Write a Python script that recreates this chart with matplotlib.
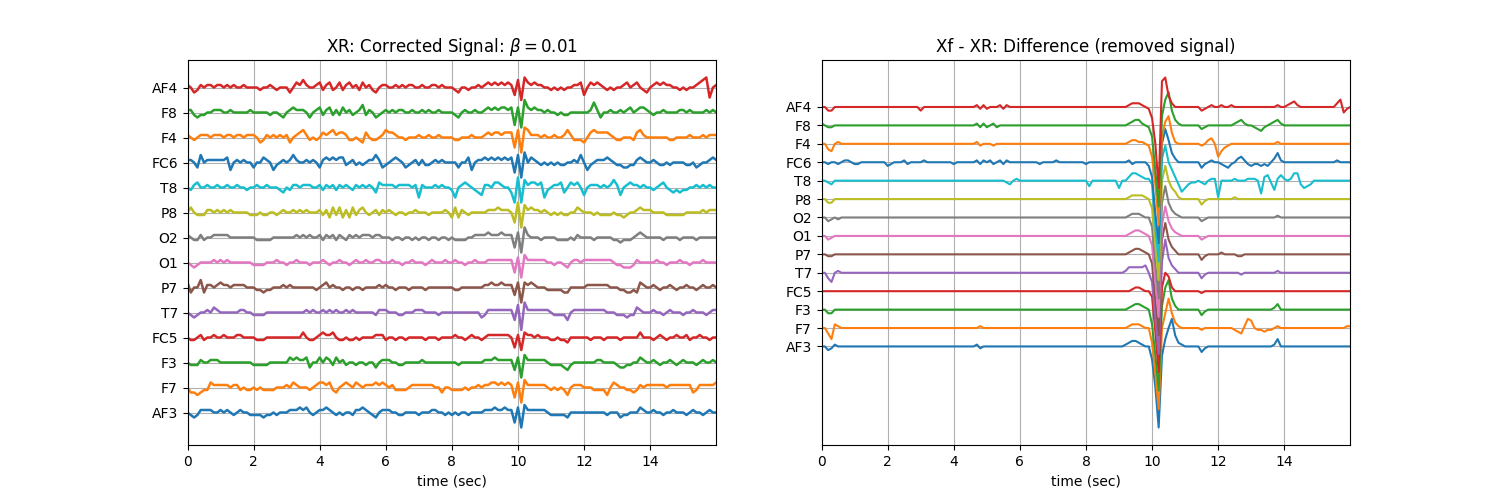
import numpy as np
import matplotlib
matplotlib.use("Agg")
import matplotlib.pyplot as plt

# channel order, bottom to top
channels = ['AF3', 'F7', 'F3', 'FC5', 'T7', 'P7', 'O1', 'O2', 'P8', 'T8', 'FC6', 'F4', 'F8', 'AF4']

# sample times (sec), 0.1 s apart
t = np.arange(161) * 0.1

# corrected signal XR, one row = 2 sec (20 samples), units: 10 = channel spacing
xr_AF3 = [0,-1,-2,-1,1,1,1,1,0,0,1,0,1,0,-1,0,1,0,0,-1,
          -1,-1,-1,-2,-1,-1,0,-1,0,0,0,1,1,1,2,1,2,0,-1,0,
          1,1,2,1,0,-1,0,-1,0,0,-1,1,1,2,1,0,-1,-2,0,1,
          1,1,0,0,-1,-1,0,0,0,0,-1,0,0,0,1,1,0,0,-1,0,
          -1,0,-1,0,0,-1,0,0,0,0,1,1,1,2,1,1,2,1,1,-4,
          2,-6,3,1,1,1,1,1,1,0,-1,-1,-1,-1,-1,-2,0,0,0,0,
          0,0,0,0,0,0,0,-1,0,0,0,-2,-1,-1,0,0,0,2,1,0,
          0,1,0,0,-1,0,0,1,0,0,0,-1,0,1,0,0,-1,0,1,0, 0]
xr_F7 = [0,-2,-2,-3,-2,-1,-1,2,1,1,1,1,1,0,1,1,-1,0,-1,-1,
         0,-1,0,-1,-1,-1,-1,0,0,0,1,0,2,1,0,0,0,-1,0,1,
         2,2,1,2,-1,-2,0,1,2,1,0,2,1,0,1,1,1,2,1,2,
         1,0,1,-1,-1,-1,-1,0,1,1,1,1,1,1,1,0,0,-2,0,0,
         -1,-1,-1,-1,0,-1,0,0,1,0,1,1,2,2,1,2,1,2,1,-4,
         2,-6,3,1,1,1,1,1,1,0,-1,0,-1,0,-1,-3,0,1,1,1,
         0,0,0,-1,-1,-1,-1,-3,0,2,1,0,0,-1,-1,-2,-1,1,0,1,
         1,1,1,1,1,0,1,1,1,1,1,1,1,-2,-1,1,1,1,1,1, 2]
xr_F3 = [0,-1,-1,-1,1,0,0,1,1,1,0,0,0,0,0,0,0,0,0,0,
         -1,-1,-1,-1,-1,0,0,0,0,0,0,2,1,2,1,1,2,-2,0,0,
         2,0,2,1,-1,2,0,1,-1,0,0,-1,0,0,-1,0,0,-2,0,1,
         1,1,0,0,-1,-1,0,0,0,0,0,1,0,0,0,0,0,0,0,0,
         0,0,-1,0,0,0,0,0,0,0,1,1,1,2,1,1,1,1,1,-3,
         2,-6,3,1,1,1,1,1,1,0,-1,-1,-1,-1,-2,-3,-1,0,0,0,
         0,0,0,0,1,1,0,0,0,0,-1,-2,-2,-1,-1,0,0,2,1,0,
         0,1,0,-1,0,0,1,0,-1,0,1,0,0,0,-1,0,1,0,0,1, 0]
xr_FC5 = [0,-1,-1,0,1,-1,0,0,1,0,0,1,0,0,0,1,1,0,0,0,
          0,-1,-1,-1,0,0,0,0,0,0,0,0,0,0,0,2,0,-1,-1,0,
          1,2,1,1,2,0,-1,-1,0,-1,-1,0,-1,0,0,0,0,1,1,1,
          -1,0,0,-1,0,0,-1,0,0,0,0,0,-1,0,0,0,-1,0,0,0,
          0,1,0,0,-1,0,1,0,0,-1,0,1,1,1,1,1,1,1,0,-4,
          1,-5,2,1,1,0,1,0,0,0,-1,-1,0,-1,-1,-2,0,0,0,0,
          0,0,-1,0,0,0,-1,0,0,0,0,-1,0,0,0,0,0,2,0,0,
          0,-1,0,1,0,-1,0,0,1,0,0,1,-1,0,0,1,0,0,-1,0, 0]
xr_T7 = [0,-1,-2,-1,0,0,1,0,2,1,0,0,0,0,0,0,1,1,0,0,
         -1,-1,-1,-1,0,0,0,0,0,0,0,0,0,0,0,0,1,0,1,0,
         0,1,0,1,0,1,0,0,1,0,1,0,0,0,0,0,0,-1,1,1,
         1,0,0,0,-1,-1,0,0,0,1,1,1,0,0,0,0,-1,0,0,0,
         0,0,0,0,0,0,0,0,0,-2,-1,1,1,1,1,1,1,1,1,-3,
         3,-7,4,1,1,1,1,1,1,1,0,-1,-1,-1,-1,-3,0,1,1,1,
         1,1,1,1,1,1,1,0,0,0,-1,-1,-1,-2,-1,-1,2,1,0,0,
         0,1,0,0,-1,0,1,0,0,0,-1,0,0,1,0,0,0,-1,0,1, 1]
xr_P7 = [2,-2,0,0,3,-2,1,1,0,1,2,1,1,0,1,1,1,1,0,0,
         0,-1,-1,-2,-1,-1,0,0,0,1,0,1,0,0,0,0,0,0,0,-1,
         0,1,2,0,1,0,0,-1,0,0,-1,0,0,-1,0,0,0,0,1,0,
         1,0,0,-1,0,0,0,-1,0,0,0,0,-1,0,0,0,0,0,0,0,
         0,-1,-1,0,0,0,0,0,0,0,1,1,2,1,1,2,1,1,1,-3,
         2,-6,2,1,2,1,0,0,0,-1,-1,-1,-1,-1,-2,-2,0,0,0,0,
         0,1,1,1,1,1,1,1,0,0,0,-1,-1,-2,-2,-1,-2,2,1,0,
         0,1,0,-1,0,0,1,0,-1,0,0,1,0,0,-1,0,1,0,0,1, 0]
xr_O1 = [0,-1,-2,-1,0,0,0,0,1,0,1,0,1,0,0,0,0,0,0,0,
         -1,-1,-1,-1,0,0,0,1,0,0,-1,0,0,1,0,0,0,-1,0,0,
         0,1,0,-1,0,0,1,0,0,-1,0,1,0,0,1,0,0,1,1,0,
         0,0,1,0,0,-1,0,0,1,0,0,0,-1,0,1,0,0,0,1,0,
         0,1,0,0,-1,0,0,1,0,0,0,1,1,1,1,1,1,1,1,-4,
         2,-6,3,1,1,1,1,1,1,0,0,-1,0,0,-1,-2,0,1,1,0,
         1,1,1,1,1,1,1,1,1,0,-1,-1,-2,-2,-2,-1,1,0,0,0,
         0,0,1,0,0,-1,0,0,0,1,0,0,-1,0,0,0,1,0,0,0, 0]
xr_O2 = [1,0,-1,-1,1,-1,0,0,1,1,1,1,1,0,0,0,0,0,0,0,
         0,-1,-1,-1,-1,-1,0,0,0,0,0,0,0,1,0,1,0,1,0,0,
         1,-1,1,0,1,-1,1,0,-1,1,0,1,0,1,1,1,0,1,1,0,
         0,0,-1,0,0,-1,0,0,-1,0,-1,0,0,-1,0,0,-1,0,0,-1,
         0,-1,-1,-1,-1,0,0,1,1,1,1,2,1,1,1,2,1,1,1,-4,
         2,-6,4,1,0,0,0,-1,0,0,0,0,-1,-1,-1,-1,0,-1,1,0,
         0,0,0,-1,0,0,0,0,0,-1,-1,-2,-1,-1,-1,0,1,2,1,0,
         0,0,0,0,-1,0,0,0,0,-1,0,0,0,0,-1,0,0,0,0,0, 0]
xr_P8 = [0,2,0,-1,-1,-1,1,1,0,1,0,1,0,1,0,0,0,0,0,-1,
         -1,-1,0,-1,-1,0,0,-1,0,1,0,0,1,0,1,0,1,0,0,0,
         1,-1,1,-2,2,-1,2,-2,1,-2,2,-1,1,2,0,-1,0,1,-1,1,
         0,1,0,-1,0,0,-1,0,0,1,0,0,0,-1,0,0,0,0,1,0,
         -2,2,-2,1,0,-1,0,0,0,0,0,1,1,1,2,1,1,1,0,-4,
         4,-6,3,1,2,1,1,0,1,0,-1,0,-1,0,-1,-1,0,0,2,1,
         0,0,0,-1,0,-1,-1,-1,-1,0,-1,-1,-2,-1,0,0,1,2,1,1,
         1,0,0,0,0,-1,-1,-1,-1,-1,-1,0,0,0,0,0,1,0,1,1, 1]
xr_T8 = [0,-1,1,2,0,0,1,0,0,1,0,0,1,0,0,1,0,0,-1,0,
         0,1,0,0,1,0,0,0,-1,-2,0,-1,1,1,0,1,1,1,0,0,
         1,-1,1,0,1,-1,1,0,1,0,-1,1,0,1,0,1,0,-2,2,1,
         1,1,1,0,1,1,1,1,0,1,-4,1,0,0,0,1,0,1,0,0,
         -1,-4,0,1,2,1,0,-1,-2,-3,1,1,0,2,2,1,0,0,-2,-6,
         4,-6,3,1,2,2,1,2,-4,-1,0,1,1,2,-2,0,2,1,2,0,
         -3,0,1,1,1,0,1,0,1,3,1,-3,0,1,2,1,1,0,1,0,
         0,-1,0,1,2,0,-1,-2,-1,-2,-1,-1,0,0,1,0,1,0,1,0, 0]
xr_FC6 = [1,1,0,-2,3,0,1,1,1,1,1,1,2,-3,0,1,0,1,0,0,
          -2,0,0,2,1,0,-3,-1,0,1,0,1,3,1,0,0,1,0,1,0,
          -2,1,2,1,2,1,2,2,-1,0,1,-1,0,-1,0,1,1,3,1,-2,
          -1,0,1,2,1,0,-2,-1,0,1,-1,1,-1,-1,0,1,0,1,0,0,
          0,0,-2,0,0,2,-3,0,1,1,2,1,2,1,2,1,2,1,2,-4,
          3,-6,4,0,2,1,0,-1,0,-1,0,-1,0,-1,-1,0,0,1,0,3,
          0,-3,-1,0,1,1,1,2,1,0,-1,-1,-2,-2,-1,-1,1,2,1,0,
          0,1,0,-1,-1,0,-1,0,0,0,0,-1,-1,0,-2,-1,0,0,1,2, 1]
xr_F4 = [1,0,-1,0,1,1,1,0,1,1,1,0,1,1,0,1,1,0,1,1,
         1,0,-2,-1,1,0,1,0,1,0,1,-2,0,1,2,3,1,-1,0,-1,
         0,2,1,2,3,1,2,2,1,-1,-1,0,-1,-2,2,0,-1,-1,0,1,
         3,2,2,1,0,0,-1,0,0,0,1,0,0,1,0,0,1,0,0,0,
         0,-1,-1,0,0,0,1,0,0,0,1,2,1,2,2,1,2,2,2,-4,
         3,-6,4,3,1,1,1,0,1,0,0,1,0,0,1,3,1,-1,-1,-1,
         -2,0,2,3,2,2,2,2,1,0,-1,-1,0,0,0,-1,2,3,1,0,
         0,0,0,0,0,0,-1,-1,0,0,0,0,1,0,0,0,1,0,1,1, 1]
xr_F8 = [1,1,-1,-2,-1,-1,0,0,1,1,1,0,0,1,0,0,0,0,0,1,
         0,0,0,0,0,-1,0,0,-1,-2,0,1,2,1,1,1,0,-2,0,1,
         2,-1,1,2,-1,1,-1,2,0,1,-1,0,1,3,-1,1,0,-2,-1,0,
         1,0,1,0,1,1,0,0,1,0,0,1,0,1,0,0,1,0,0,0,
         0,-1,-2,0,1,0,0,1,0,0,1,2,1,2,1,2,2,1,2,-5,
         2,-6,5,2,1,2,1,1,0,1,0,0,-1,0,-1,-1,0,0,0,0,
         0,0,1,4,1,-2,0,0,1,0,0,1,0,1,2,0,1,2,2,1,
         0,-1,0,0,1,0,0,0,0,1,1,0,1,0,0,0,0,1,0,1, 0]
xr_AF4 = [1,0,-2,-1,1,0,1,1,0,1,1,0,1,0,1,0,0,1,0,0,
          0,0,-1,0,0,1,0,-1,0,0,0,-2,0,2,1,3,1,0,0,1,
          2,-1,1,2,-1,0,2,-1,1,2,0,1,-1,2,0,1,-1,-2,0,1,
          1,0,0,1,0,1,0,1,1,0,0,1,0,0,1,1,0,1,0,0,
          0,-1,-2,0,0,-1,0,0,1,0,1,2,1,2,1,2,1,2,1,-3,
          3,-5,4,2,1,2,1,1,0,0,-1,0,-1,0,-1,0,0,1,1,2,
          -3,0,2,1,2,1,0,-1,0,-1,0,0,1,2,0,1,2,0,-1,-2,
          0,1,2,1,2,1,1,0,0,-1,0,-1,0,0,1,2,3,4,-4,0, 1]

# removed signal Xf - XR, same units
z20 = [0] * 20
df_AF3 = ([0,0,-2,-1,1,0,0,0,0,0,0,0,0,0,0,0,0,0,0,0] + z20
          + [0,0,0,0,0,0,0,1,-1,0,0,0,0,0,0,0,0,0,0,0] + z20
          + [0,0,0,0,0,0,0,0,0,0,0,0,1,2,3,3,2,1,0,0]
          + [-7,-22,-44,-5,4,10,15,6,2,1,0,0,0,0,0,-3,-1,0,0,0]
          + [0,0,0,0,0,0,0,0,0,0,0,0,0,0,0,0,0,1,4,0] + z20 + [0])
df_F7 = ([0,0,-3,-6,2,1,0,0,0,0,0,0,0,0,0,0,0,0,0,0] + z20
         + [0,0,0,0,0,0,0,0,1,0,0,0,0,0,0,0,0,0,0,0] + z20
         + [0,0,0,0,0,0,0,0,0,0,0,0,0,1,2,2,2,1,0,0]
         + [-8,-25,-44,0,8,16,8,3,1,0,0,0,0,0,0,-1,0,0,0,0]
         + [0,0,0,0,0,-1,-2,-3,1,5,4,0,-1,-1,-2,-1,-1,0,1,0]
         + [0,0,0,0,0,0,0,0,0,0,0,0,0,0,0,0,0,0,0,1] + [1])
df_F3 = ([0,0,-2,-2,0,0,0,0,0,0,0,0,0,0,0,0,0,0,0,0] + z20 + z20 + z20
         + [0,0,0,0,0,0,0,0,0,0,0,0,0,1,2,3,3,2,1,0]
         + [-8,-25,-44,2,12,16,6,2,0,0,0,0,0,0,0,-3,-1,0,0,0]
         + [0,0,0,0,0,0,0,0,0,0,0,0,0,0,0,0,0,1,3,0] + z20 + [0])
df_FC5 = (z20 + z20 + z20 + z20
          + [0,0,0,0,0,0,0,0,0,0,0,0,0,0,1,2,2,1,0,0]
          + [-3,-22,-44,2,10,8,2,0,0,0,0,0,0,0,0,-1,0,0,0,0]
          + z20 + z20 + [0])
df_T7 = ([0,0,-3,-5,0,1,0,0,0,0,0,0,0,0,0,0,0,0,0,0] + z20 + z20 + z20
         + [0,0,0,0,0,0,0,0,0,0,0,0,1,3,3,3,3,3,4,0]
         + [-5,-25,-44,6,18,8,4,2,0,0,0,0,0,0,0,-3,-1,0,0,0]
         + [0,0,0,0,0,0,0,-1,0,0,0,0,0,0,0,0,0,0,1,0] + z20 + [0])
df_P7 = ([0,0,-1,-1,0,0,0,0,0,0,0,0,0,0,0,0,0,0,0,0] + z20 + z20 + z20
         + [0,0,0,0,0,0,0,0,0,0,0,0,0,1,2,3,3,2,1,0]
         + [-5,-25,-44,8,17,8,4,2,0,0,0,0,0,0,0,-3,-1,0,0,0]
         + [0,1,0,0,0,0,-1,-1,0,0,0,0,0,0,0,0,0,0,0,0] + z20 + [0])
df_O1 = ([0,0,-2,-1,0,0,0,0,0,0,0,0,0,0,0,0,0,0,0,0] + z20 + z20 + z20
         + [0,0,0,0,0,0,0,0,0,0,0,0,0,1,2,3,3,2,1,0]
         + [-5,-25,-44,6,16,8,4,2,1,0,0,0,0,0,0,-2,-1,0,0,0]
         + z20 + z20 + [0])
df_O2 = ([0,0,-2,-1,0,-1,0,0,0,0,0,0,0,0,0,0,0,0,0,0] + z20 + z20 + z20
         + [0,0,0,0,0,0,0,0,0,0,0,0,0,1,2,2,2,1,0,0]
         + [-5,-25,-44,8,17,8,4,2,1,0,0,0,0,0,0,-2,-1,0,0,0]
         + [0,0,0,0,0,0,0,0,0,0,0,0,0,0,0,0,0,0,1,0] + z20 + [0])
df_P8 = ([0,0,-2,-2,0,0,0,0,0,0,0,0,0,0,0,0,0,0,0,0] + z20 + z20 + z20
         + [0,0,0,0,0,0,0,0,0,0,0,0,0,1,2,2,2,2,1,0]
         + [-5,-25,-44,10,18,10,6,4,1,0,0,0,0,0,0,-3,-1,0,0,0]
         + [0,0,0,0,0,1,0,0,0,0,0,0,0,0,0,0,0,0,0,0] + z20 + [0])
df_T8 = ([0,0,-1,-2,0,0,0,0,0,0,0,0,0,0,0,0,0,0,0,0] + z20
         + [0,0,0,0,0,0,0,0,0,0,0,0,0,0,0,0,-1,-2,0,1] + z20
         + [0,-3,0,0,0,0,0,0,0,0,-4,0,0,2,4,4,3,2,1,1]
         + [-2,-25,-44,12,19,10,6,2,-2,-6,-4,-2,-1,-1,0,-1,-2,0,1,1]
         + [-9,0,0,0,0,1,0,0,0,1,1,1,0,-7,2,3,-1,-5,1,3]
         + [1,0,1,4,4,-2,-4,-3,-2,0,0,0,0,0,0,0,0,0,0,0] + [0])
df_FC6 = ([0,0,-1,0,0,-1,0,1,1,0,-1,-1,0,0,0,0,0,0,0,0]
          + [-2,-1,0,0,0,1,-1,0,0,0,0,1,0,0,0,0,0,0,0,0]
          + [-1,0,0,0,0,0,0,1,-1,1,0,1,-1,0,1,-1,1,0,0,0]
          + [0,0,0,0,0,0,-1,0,0,0,0,1,0,0,0,0,0,0,0,0]
          + [-1,0,0,0,0,0,0,0,0,0,0,0,0,1,-1,0,0,0,0,-2]
          + [-8,-28,-44,10,18,12,5,2,0,0,0,0,0,0,0,-3,-1,0,1,0]
          + [0,-1,-2,-3,-1,0,2,3,1,-1,-2,-1,-1,-2,-1,-2,0,2,5,1]
          + [0,0,0,0,0,0,0,0,0,0,0,0,0,0,0,0,1,0,0,0] + [0])
df_F4 = ([0,0,-3,-4,0,1,0,0,0,0,0,0,0,0,0,0,0,0,0,0] + z20
         + [0,0,0,0,0,0,0,1,-1,0,0,0,-1,0,0,0,0,0,0,0] + z20
         + [0,0,0,0,0,0,0,0,0,0,0,0,0,1,2,2,1,1,0,-1]
         + [-7,-22,-44,4,12,15,6,1,0,0,0,0,0,0,0,-1,0,2,3,0]
         + [-7,-4,-2,-1,0,0,0,0,0,0,0,0,0,0,0,0,0,0,1,0] + z20 + [0])
df_F8 = ([1,0,-1,-1,0,0,0,0,0,0,0,0,0,0,0,0,0,0,0,0] + z20
         + [0,0,0,0,0,0,0,1,-1,1,-1,0,1,-1,0,0,0,0,0,0] + z20
         + [0,0,0,0,0,0,0,0,0,0,0,0,0,1,2,3,3,1,0,-1]
         + [-6,-25,-44,5,14,18,8,3,1,0,0,0,0,0,0,-2,-1,0,0,0]
         + [0,0,0,0,0,1,2,3,1,0,0,-1,-2,-3,-1,0,1,2,3,1] + z20 + [0])
df_AF4 = ([0,0,-2,-2,0,0,0,0,0,0,0,0,0,0,0,0,0,0,0,0]
          + [0,0,0,0,0,0,0,0,0,0,-2,0,0,0,0,0,0,0,0,0]
          + [0,0,0,0,0,0,0,1,-1,1,-1,0,0,0,1,-1,1,0,0,0] + z20
          + [0,0,0,0,0,0,0,0,0,0,0,0,0,1,2,2,2,1,0,-1]
          + [-6,-20,-44,14,16,6,2,0,0,0,0,0,0,0,0,-2,-1,0,1,0]
          + [0,1,0,0,1,0,0,0,0,0,0,0,0,0,0,0,0,0,1,0]
          + [0,1,2,3,1,0,0,0,0,0,0,0,0,0,0,0,2,4,-3,-1] + [0])

xr_data = [xr_AF3, xr_F7, xr_F3, xr_FC5, xr_T7, xr_P7, xr_O1, xr_O2,
           xr_P8, xr_T8, xr_FC6, xr_F4, xr_F8, xr_AF4]
df_data = [df_AF3, df_F7, df_F3, df_FC5, df_T7, df_P7, df_O1, df_O2,
           df_P8, df_T8, df_FC6, df_F4, df_F8, df_AF4]

spacing = 10
offsets = np.arange(len(channels)) * spacing

fig, (ax1, ax2) = plt.subplots(1, 2, figsize=(15, 5))

for i in range(len(channels)):
    ax1.plot(t, np.array(xr_data[i]) + offsets[i], lw=1.8)
    ax2.plot(t, np.array(df_data[i]) + offsets[i])

for ax in (ax1, ax2):
    ax.set_yticks(offsets)
    ax.set_yticklabels(channels)
    ax.set_xlim(0, 15.99)
    ax.set_xlabel('time (sec)')
    ax.grid()

ax1.set_title(r'XR: Corrected Signal: $\beta=0.01$')
ax2.set_title('Xf - XR: Difference (removed signal)')

plt.savefig('out.png', dpi=100)
